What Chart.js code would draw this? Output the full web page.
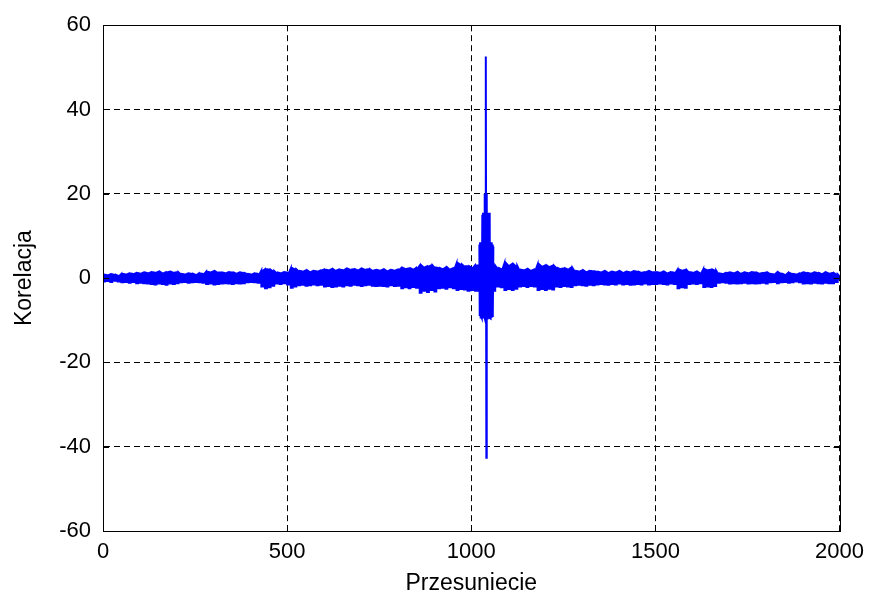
<!DOCTYPE html>
<html>
<head>
<meta charset="utf-8">
<script src="https://cdn.jsdelivr.net/npm/chart.js@4/dist/chart.umd.min.js"></script>
<style>
html,body{margin:0;padding:0;background:#fff;}
canvas{display:block;}
</style>
</head>
<body>
<canvas id="c" width="872" height="602"></canvas>
<script>
// Background correlation envelope, one pair per 10-lag step (lag 0..2000)
const lagStep = 10;
const envHigh = [
 0.8,0.7,0.9,0.8,0.6,
 1.0,0.9,1.1,1.0,
 1.2,1.1,1.3,1.2,
 1.4,1.3,1.5,1.2,1.4,1.5,1.3,1.4,
 1.0,0.9,1.1,1.0,0.8,1.1,1.0,
 1.5,1.4,1.6,1.3,
 1.3,1.2,1.4,1.3,1.1,1.3,1.2,
 1.0,0.9,1.1,1.0,
 1.8,2.1,2.0,1.7,
 1.3,1.2,1.4,1.3,
 2.3,2.1,
 1.7,1.6,1.8,1.5,1.7,1.6,1.8,
 2.0,1.9,2.1,1.8,2.0,1.9,
 2.2,2.0,2.1,1.9,2.2,2.0,2.1,1.8,
 1.9,1.8,2.0,1.7,1.9,1.8,2.0,
 2.4,2.2,2.3,2.1,2.4,
 3.0,2.6,2.8,3.0,2.5,
 2.4,2.2,2.5,2.1,2.3,
 3.5,3.2,2.8,
 2.8,2.5,3.0,
 3.0,3.0,3.0,3.0,3.0,
 2.4,2.2,
 3.5,3.0,3.3,2.9,
 2.0,1.9,2.1,1.8,2.0,
 3.2,2.8,3.0,2.7,2.9,
 2.4,2.2,2.3,2.1,2.4,
 1.7,1.6,1.8,1.5,1.7,1.6,
 1.5,1.4,1.6,1.3,1.5,1.4,1.6,1.3,1.5,1.4,1.6,1.5,1.3,1.4,1.6,1.4,
 1.4,1.3,1.5,1.2,1.4,1.3,
 2.0,1.8,1.9,
 1.4,1.3,1.5,1.2,
 2.1,1.9,2.0,1.8,
 1.1,1.0,1.2,
 1.3,1.2,1.4,1.1,1.3,1.2,1.4,1.3,1.1,1.2,1.3,
 1.0,0.9,1.3,1.0,0.8,1.2,1.0,0.9,1.1,
 1.3,1.2,1.1,1.3,1.2,1.0,1.3,1.1,1.2,
 0.9,0.5
];
const envLow = [
 -0.8,-0.7,-0.9,-0.6,-0.8,
 -1.0,-0.9,-1.1,-0.9,
 -1.2,-1.1,-1.2,-1.3,
 -1.4,-1.5,-1.3,-1.4,-1.6,-1.3,-1.4,-1.2,
 -1.0,-0.9,-1.1,-1.0,-0.9,-1.0,-1.1,
 -1.4,-1.3,-1.5,-1.4,
 -1.3,-1.2,-1.3,-1.4,-1.2,-1.3,-1.2,
 -1.0,-0.9,-1.0,-1.1,
 -2.0,-2.4,-2.2,-1.8,
 -1.3,-1.4,-1.2,-1.5,
 -2.3,-2.0,
 -1.7,-1.6,-1.8,-1.7,-1.5,-1.7,-1.6,
 -2.0,-1.9,-2.1,-2.0,-1.8,-2.0,
 -1.7,-1.8,-1.6,-1.7,-1.9,-1.7,-1.6,-1.8,
 -1.9,-1.8,-1.9,-2.0,-1.7,-1.9,-1.8,
 -2.4,-2.2,-2.4,-2.1,-2.3,
 -3.5,-3.0,-3.3,-2.8,-3.2,
 -2.4,-2.3,-2.5,-2.2,-2.4,
 -2.8,-2.6,-2.7,
 -3.0,-2.8,-3.0,
 -3.0,-3.0,-3.0,-3.0,-3.0,
 -2.0,-2.2,
 -2.8,-2.6,-2.8,-2.5,
 -2.0,-1.9,-2.1,-1.9,-2.0,
 -2.8,-2.6,-2.8,-2.5,-2.7,
 -2.0,-2.1,-1.9,-2.0,-2.1,
 -1.7,-1.6,-1.7,-1.8,-1.6,-1.7,
 -1.5,-1.4,-1.5,-1.6,-1.4,-1.5,-1.3,-1.5,-1.4,-1.6,-1.5,-1.4,-1.5,-1.3,-1.5,-1.4,
 -1.4,-1.3,-1.4,-1.5,-1.3,-1.4,
 -2.4,-2.2,-2.3,
 -1.4,-1.3,-1.4,-1.2,
 -2.1,-2.0,-2.1,-1.9,
 -1.1,-1.0,-1.1,
 -1.3,-1.2,-1.3,-1.2,-1.1,-1.3,-1.2,-1.3,-1.2,-1.1,-1.3,
 -1.0,-0.9,-1.2,-1.0,-0.9,-1.1,-1.0,-0.8,-1.0,
 -1.3,-1.2,-1.3,-1.1,-1.2,-1.3,-1.1,-1.2,-1.2,
 -0.9,-0.5
];
// Central burst around the main correlation peak
const peakLags = [1022,1023,1024,1025,1026,1027,1028,1029,1030,1031,1032,1033,1034,1035,1036,1037,1038,1039,1040,1041,1042,1043,1044,1045,1046,1047,1048,1049,1050,1051,1052,1053,1054,1055,1056,1057,1058,1059,1060];
const peakVals = [8.0,-9.0,8.5,-9.6,8.2,-9.2,8.5,-9.5,15.0,-9.4,15.5,-9.6,14.8,-9.0,20.0,-9.5,19.5,-9.2,52.6,-42.6,20.0,-9.6,15.5,-9.3,15.0,-9.6,15.2,-9.4,15.5,-9.5,8.5,-9.6,8.3,-9.4,8.5,-9.0,8.0,-8.5,7.5];
const xTicks = [0,500,1000,1500,2000];
const yTicks = [-60,-40,-20,0,20,40,60];
const xLabel = 'Przesuniecie';
const yLabel = 'Korelacja';

// each envelope pair is drawn as vertical up/down strokes within its 10-lag cell
const bgData = [];
envHigh.forEach((h, i) => {
  const l = i * lagStep;
  bgData.push({x: l, y: h});
  bgData.push({x: l, y: envLow[i]});
  bgData.push({x: l + 5, y: envLow[i]});
  bgData.push({x: l + 5, y: h});
});
const peakData = peakLags.map((l, i) => ({x: l, y: peakVals[i]}));

const FONT = "'Liberation Sans', Arial, Helvetica, sans-serif";

const boxPlugin = {
  id: 'boxTicks',
  afterDraw(chart) {
    const {ctx, chartArea: a, scales} = chart;
    ctx.save();
    ctx.strokeStyle = '#000';
    ctx.lineWidth = 1;
    ctx.setLineDash([]);
    ctx.strokeRect(Math.round(a.left) + 0.5, Math.round(a.top) + 0.5, Math.round(a.right - a.left), Math.round(a.bottom - a.top));
    ctx.beginPath();
    xTicks.forEach(v => {
      const px = Math.round(scales.x.getPixelForValue(v)) + 0.5;
      ctx.moveTo(px, a.bottom); ctx.lineTo(px, a.bottom - 6);
      ctx.moveTo(px, a.top); ctx.lineTo(px, a.top + 6);
    });
    yTicks.forEach(v => {
      const py = Math.round(scales.y.getPixelForValue(v)) + 0.5;
      ctx.moveTo(a.left, py); ctx.lineTo(a.left + 6, py);
      ctx.moveTo(a.right, py); ctx.lineTo(a.right - 6, py);
    });
    ctx.stroke();
    ctx.restore();
  }
};

new Chart(document.getElementById('c'), {
  type: 'line',
  data: {
    datasets: [
      {data: bgData, borderColor: '#0000ff', borderWidth: 2, pointRadius: 0, tension: 0, fill: false},
      {data: peakData, borderColor: '#0000ff', borderWidth: 2, pointRadius: 0, tension: 0, fill: false}
    ]
  },
  plugins: [boxPlugin],
  options: {
    responsive: false,
    animation: false,
    parsing: false,
    layout: {padding: {top: 22, right: 32, left: 0, bottom: 0}},
    plugins: {legend: {display: false}, tooltip: {enabled: false}},
    scales: {
      x: {
        type: 'linear', min: 0, max: 2000,
        afterBuildTicks: s => { s.ticks = xTicks.map(v => ({value: v})); },
        afterFit: s => { s.height = 71; },
        grid: {color: '#000', lineWidth: 1, drawTicks: false},
        border: {display: true, color: '#000', dash: [6, 4]},
        ticks: {color: '#000', font: {family: FONT, size: 22}, padding: 8, maxRotation: 0, callback: v => String(v)},
        title: {display: true, text: xLabel, color: '#000', font: {family: FONT, size: 23}, padding: {top: 4, bottom: 5}}
      },
      y: {
        type: 'linear', min: -60, max: 60,
        afterBuildTicks: s => { s.ticks = yTicks.map(v => ({value: v})); },
        afterFit: s => { s.width = 103; },
        grid: {color: '#000', lineWidth: 1, drawTicks: false},
        border: {display: true, color: '#000', dash: [6, 4]},
        ticks: {color: '#000', font: {family: FONT, size: 22}, padding: 12, callback: v => String(v)},
        title: {display: true, text: yLabel, color: '#000', font: {family: FONT, size: 23}, padding: {top: 11, bottom: 4}}
      }
    }
  }
});
</script>
</body>
</html>
